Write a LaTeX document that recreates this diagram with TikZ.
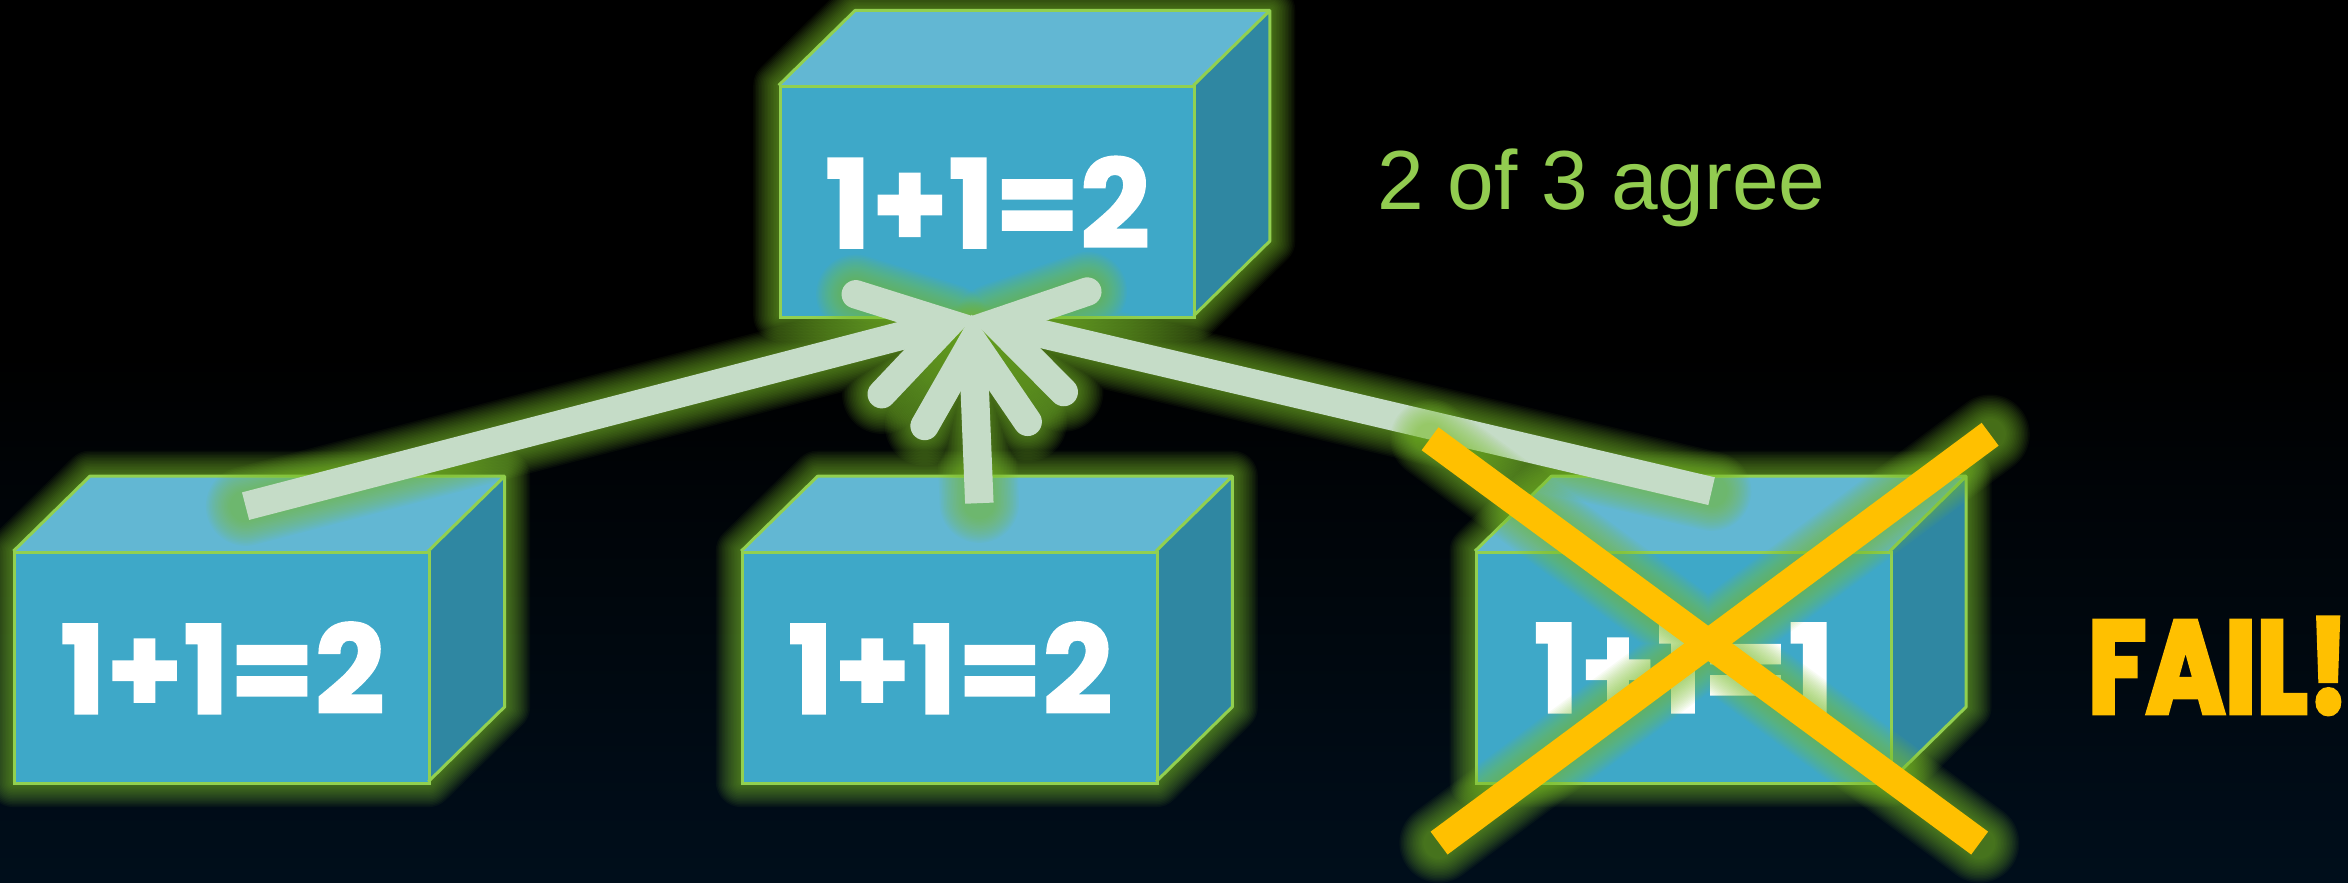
\documentclass[tikz,border=0pt]{standalone}
\usepackage{fontspec}
\usetikzlibrary{calc}
\newfontfamily\boxfont{Poppins}[UprightFont={* Bold}, UprightFeatures={FakeBold=1.5}]
\newfontfamily\failfont{Poppins}[UprightFont={* Bold}, UprightFeatures={FakeBold=4}]
\newfontfamily\labfont{Liberation Sans}
\definecolor{frontc}{RGB}{62,168,200}
\definecolor{topc}{RGB}{98,183,211}
\definecolor{sidec}{RGB}{47,135,162}
\definecolor{edgec}{RGB}{146,208,80}
\definecolor{glowc}{RGB}{128,196,48}
\definecolor{arrowc}{RGB}{197,220,199}
\definecolor{xc}{RGB}{255,192,0}
\definecolor{agreec}{RGB}{146,204,80}
\definecolor{bgbot}{RGB}{0,26,50}
\pgfdeclareverticalshading{bgshade}{100bp}{color(0bp)=(bgbot); color(55bp)=(black); color(100bp)=(black)}
\tikzset{
  frontface/.style={rectangle, fill=frontc, draw=edgec, line width=2pt,
    minimum width=277pt, minimum height=154pt, inner sep=0pt, text=white,
    font=\boxfont\fontsize{82}{82}\selectfont},
  edge/.style={draw=edgec, line width=2pt, line join=round},
  shaft/.style={draw=arrowc, line width=19pt},
  xstroke/.style={draw=xc, line width=19pt, line cap=butt},
}
\newcommand\glowpath[2]{%
  \foreach \w in {2,4,...,34}{%
    \draw[glowc, line width={#1pt+\w pt}, opacity=0.05, line join=round, line cap=round] #2;}}
\newcommand\cubebox[4]{%
  \begin{scope}[shift={(#2,#3)}]
    \glowpath{0}{(0,154)--(0,0)--(51,-50)--(328,-50)--(328,104)--(277,154)--cycle}
    \fill[topc] (0,0)--(51,-50)--(328,-50)--(277,0)--cycle;
    \fill[sidec] (277,0)--(328,-50)--(328,104)--(277,154)--cycle;
    \node[frontface, anchor=north west] (#1) at (0,0) {#4};
    \draw[edge] (0,0)--(51,-50)--(328,-50)--(328,104)--(277,154) (277,0)--(328,-50);
  \end{scope}}
\newcommand\arrowpts[3]{% start, tip, prefix
  \coordinate (#3v) at ($(#2)!16pt!(#1)$);
  \coordinate (#3a) at ($(#3v)!65pt!32:(#1)$);
  \coordinate (#3b) at ($(#3v)!65pt!-32:(#1)$);}
\newcommand\arrowglow[2]{\glowpath{19}{(#1)--(#2v) (#2a)--(#2v)--(#2b)}}
\newcommand\arrowbody[2]{%
  \draw[shaft] (#1)--(#2v);
  \draw[shaft, line cap=round, line join=miter] (#2a)--(#2v)--(#2b);}
\begin{document}
\begin{tikzpicture}[x=1pt,y=-1pt]
\useasboundingbox (0,0) rectangle (1568,589.66);
\shade[shading=bgshade] (0,0) rectangle (1568,589.66);
% boxes
\cubebox{T}{520}{57}{1+1=2}
\cubebox{L}{9}{368}{1+1=2}
\cubebox{M}{495}{368}{1+1=2}
\cubebox{R}{985}{368}{1+1=1}
% connectors
\coordinate (tip) at (649,212);
\coordinate (ls) at (164,338);
\coordinate (ms) at (654,336);
\coordinate (rs) at (1143,328);
\arrowpts{ls}{tip}{l}
\arrowpts{ms}{tip}{m}
\arrowpts{rs}{tip}{r}
\arrowglow{ls}{l}
\arrowglow{ms}{m}
\arrowglow{rs}{r}
\arrowbody{ls}{l}
\arrowbody{ms}{m}
\arrowbody{rs}{r}
% cross
\coordinate (xa1) at (955,293);
\coordinate (xa2) at (1322,563);
\coordinate (xb1) at (1329,290);
\coordinate (xb2) at (961,563);
\glowpath{19}{(xa1)--(xa2) (xb1)--(xb2)}
\draw[xstroke] (xa1)--(xa2);
\draw[xstroke] (xb1)--(xb2);
% labels
\node[font=\labfont\fontsize{56}{56}\selectfont, text=agreec, anchor=base west, inner sep=0pt] (agree) at (920,140) {2 of 3 agree};
\node[font=\failfont\fontsize{87}{87}\selectfont, text=xc, anchor=base west, inner sep=0pt] (fail) at (1394,476) {\scalebox{0.82}[1]{FAIL!}};
\end{tikzpicture}
\end{document}
